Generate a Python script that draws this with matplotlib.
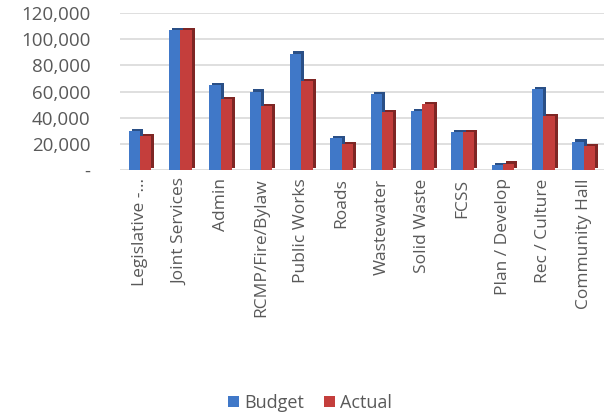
import matplotlib
matplotlib.use("Agg")
import matplotlib.pyplot as plt
import matplotlib.patheffects as pe
from matplotlib.patches import Patch
import numpy as np

categories = ["Legislative -...", "Joint Services", "Admin", "RCMP/Fire/Bylaw",
              "Public Works", "Roads", "Wastewater", "Solid Waste", "FCSS",
              "Plan / Develop", "Rec / Culture", "Community Hall"]
budget = [30000, 107000, 65000, 60000, 89000, 24500, 58000, 45000, 29000, 4000, 62000, 21800]
actual = [25700, 107000, 54000, 49000, 68000, 20000, 44500, 50500, 29000, 5000, 41500, 18300]
yticks = [0, 20000, 40000, 60000, 80000, 100000, 120000]
ytick_labels = ["-", "20,000", "40,000", "60,000", "80,000", "100,000", "120,000"]

plt.rcParams['font.family'] = ['Open Sans', 'DejaVu Sans']
fig = plt.figure(figsize=(6.05, 4.17), dpi=100)
ax = fig.add_axes([0.198, 0.592, 0.800, 0.377])

x = np.arange(len(categories))
w = 0.28
blue = "#4078C8"
red = "#C43E3C"
b1 = ax.bar(x - w/2, budget, w, color=blue, zorder=3)
b2 = ax.bar(x + w/2, actual, w, color=red, zorder=4)
for p in b1:
    p.set_path_effects([pe.SimplePatchShadow(offset=(2.2, 1.6), shadow_rgbFace="#2A4F86", alpha=1), pe.Normal()])
for p in b2:
    p.set_path_effects([pe.SimplePatchShadow(offset=(2.2, 1.6), shadow_rgbFace="#7E2624", alpha=1), pe.Normal()])

ax.set_xlim(-0.5, len(categories) - 0.5)
ax.set_ylim(0, 120000)
ax.set_yticks(yticks)
ax.set_yticklabels(ytick_labels, fontsize=13.5, color="#595959")
ax.set_xticks(x)
ax.set_xticklabels(categories, rotation=90, fontsize=12.5, color="#595959")
ax.tick_params(axis="y", length=0, pad=21)
ax.tick_params(axis="x", length=0, pad=6)
ax.yaxis.grid(True, color="#D9D9D9", linewidth=1.2, zorder=0)
for s in ax.spines.values():
    s.set_visible(False)

handles = [Patch(facecolor=blue), Patch(facecolor=red)]
leg = fig.legend(handles, ["Budget", "Actual"], loc="center", bbox_to_anchor=(0.512, 0.034),
                 ncol=2, frameon=False, fontsize=13, handlelength=0.6, handleheight=0.6,
                 handletextpad=0.3, columnspacing=1.1)
for t in leg.get_texts():
    t.set_color("#595959")

fig.savefig("out.png", dpi=100)
